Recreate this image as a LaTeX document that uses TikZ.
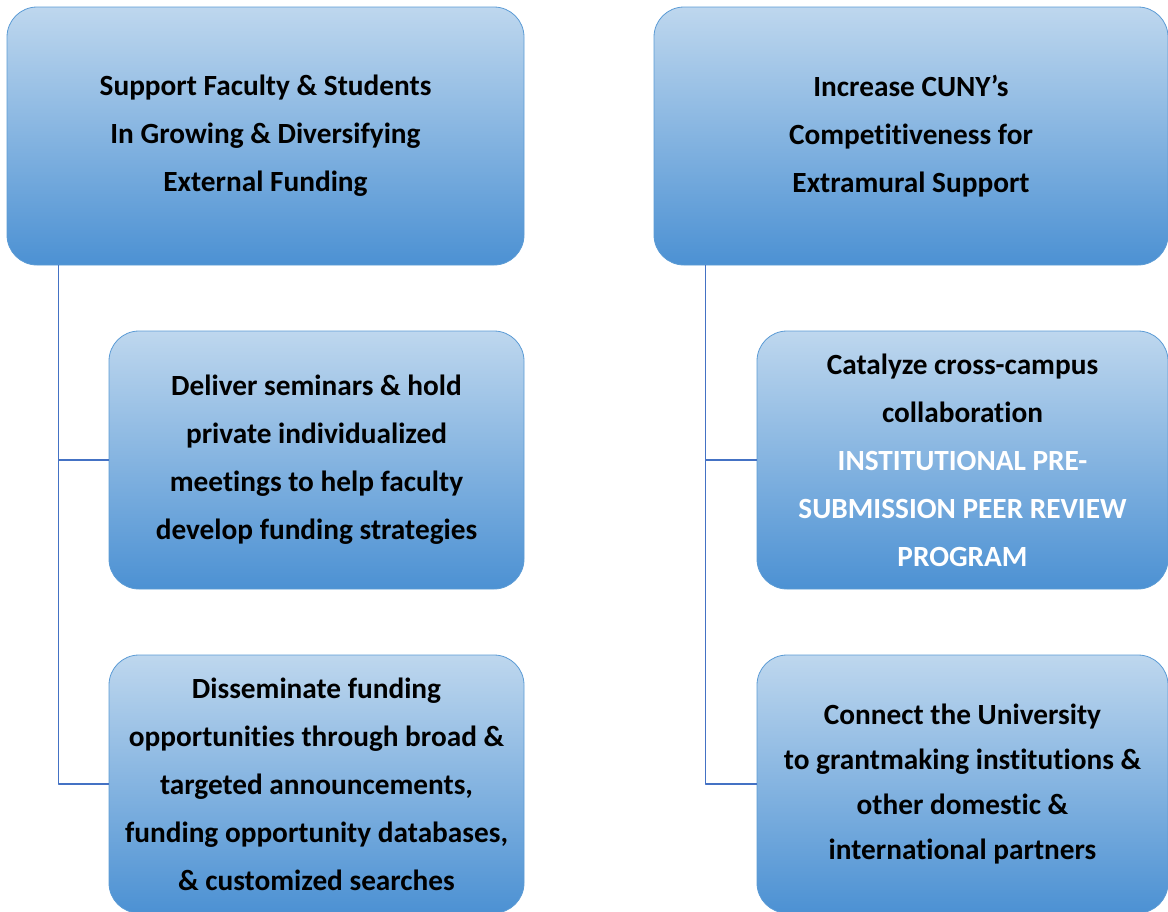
\documentclass[tikz,border=0pt]{standalone}
\usepackage{fontspec}
\setmainfont{Carlito}[Ligatures=NoCommon]
\definecolor{boxtop}{RGB}{190,215,238}
\definecolor{boxbot}{RGB}{76,145,211}
\definecolor{boxline}{RGB}{91,155,213}
\definecolor{linkblue}{RGB}{68,114,196}
\tikzset{
	goalbox/.style={draw=boxline, line width=0.8pt, rounded corners=30pt, top color=boxtop, bottom color=boxbot, align=center, inner sep=0pt, minimum height=258pt, font=\bfseries\fontsize{29.3}{48}\selectfont},
	link/.style={draw=linkblue, line width=1.2pt}
}
\begin{document}
\begin{tikzpicture}[x=1pt, y=-1pt, line join=round]
	\useasboundingbox (0,0) rectangle (1168,911);
	% goals
	\node[goalbox, minimum width=517pt] (supp) at (265.5,136) {Support Faculty \& Students\\In Growing \& Diversifying\\External Funding};
	\node[goalbox, minimum width=514pt] (comp) at (911,136) {Increase CUNY’s\\Competitiveness for\\Extramural Support};
	% activities
	\node[goalbox, minimum width=415pt] (semi) at (316.5,460) {Deliver seminars \& hold\\private individualized\\meetings to help faculty\\develop funding strategies};
	\node[goalbox, minimum width=415pt] (diss) at (316.5,784) {Disseminate funding\\opportunities through broad \&\\targeted announcements,\\funding opportunity databases,\\\& customized searches};
	\node[goalbox, minimum width=411pt] (cata) at (962.5,460) {Catalyze cross-campus\\collaboration\\\textcolor{white}{INSTITUTIONAL PRE-}\\\textcolor{white}{SUBMISSION PEER REVIEW}\\\textcolor{white}{PROGRAM}};
	\node[goalbox, minimum width=411pt, font=\bfseries\fontsize{29.3}{45}\selectfont] (conn) at (962.5,784) {Connect the University\\to grantmaking institutions \&\\other domestic \&\\international partners};
	% connectors
	\foreach \g/\a in {supp/semi, supp/diss, comp/cata, comp/conn}
		\draw[link] ([xshift=51.5pt]\g.south west) |- (\a.west);
\end{tikzpicture}
\end{document}
